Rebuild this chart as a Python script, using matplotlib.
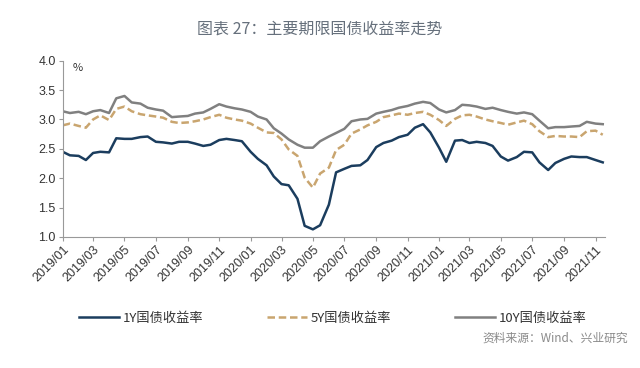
import matplotlib
matplotlib.use("Agg")
import matplotlib.pyplot as plt
import matplotlib.dates as mdates
import pandas as pd
import numpy as np

plt.rcParams['font.family'] = ['Noto Sans CJK SC', 'DejaVu Sans']

# semi-monthly observation dates (1st and 15th of each month)
dates = pd.date_range('2019-01-01', periods=70, freq='SMS')

y1 = [2.45, 2.39, 2.38, 2.31, 2.43, 2.45, 2.44, 2.68, 2.67, 2.67,
      2.70, 2.71, 2.62, 2.61, 2.59, 2.62, 2.62, 2.59, 2.55, 2.57,
      2.65, 2.67, 2.65, 2.63, 2.45, 2.33, 2.22, 2.03, 1.90, 1.88,
      1.65, 1.19, 1.13, 1.20, 1.55, 2.10, 2.16, 2.21, 2.22, 2.31,
      2.53, 2.60, 2.64, 2.70, 2.74, 2.86, 2.92, 2.78, 2.52, 2.28,
      2.64, 2.65, 2.60, 2.62, 2.60, 2.55, 2.37, 2.30, 2.36, 2.45,
      2.44, 2.27, 2.14, 2.26, 2.33, 2.37, 2.36, 2.36, 2.31, 2.27]

y5 = [2.90, 2.93, 2.89, 2.86, 3.00, 3.07, 2.99, 3.18, 3.22, 3.14,
      3.09, 3.07, 3.05, 3.03, 2.96, 2.94, 2.95, 2.97, 3.00, 3.04,
      3.08, 3.03, 3.00, 2.98, 2.93, 2.86, 2.78, 2.77, 2.66, 2.49,
      2.38, 2.01, 1.84, 2.08, 2.18, 2.48, 2.57, 2.76, 2.83, 2.90,
      2.96, 3.04, 3.07, 3.10, 3.08, 3.11, 3.13, 3.08, 2.99, 2.89,
      3.01, 3.07, 3.08, 3.05, 3.00, 2.97, 2.94, 2.91, 2.95, 2.98,
      2.92, 2.80, 2.70, 2.72, 2.71, 2.71, 2.70, 2.80, 2.81, 2.74]

y10 = [3.14, 3.11, 3.13, 3.09, 3.14, 3.16, 3.11, 3.36, 3.40, 3.29,
       3.27, 3.20, 3.17, 3.15, 3.04, 3.05, 3.06, 3.10, 3.12, 3.18,
       3.26, 3.22, 3.19, 3.17, 3.13, 3.05, 3.00, 2.85, 2.76, 2.66,
       2.57, 2.52, 2.52, 2.63, 2.71, 2.77, 2.84, 2.97, 3.00, 3.01,
       3.10, 3.13, 3.16, 3.20, 3.23, 3.27, 3.30, 3.28, 3.17, 3.12,
       3.16, 3.25, 3.24, 3.22, 3.18, 3.20, 3.16, 3.13, 3.10, 3.12,
       3.09, 2.98, 2.85, 2.87, 2.87, 2.88, 2.89, 2.96, 2.93, 2.92]

labels = ['1Y国债收益率', '5Y国债收益率', '10Y国债收益率']
colors = ['#1b3d5e', '#c9a56f', '#808080']

fig = plt.figure(figsize=(6.4, 3.68), dpi=100)
ax = fig.add_axes([0.098, 0.356, 0.847, 0.479])

l1, = ax.plot(dates, y1, color=colors[0], lw=1.8, label=labels[0])
l2, = ax.plot(dates, y5, color=colors[1], lw=1.8, ls=(0, (3, 1.5)), label=labels[1])
l3, = ax.plot(dates, y10, color=colors[2], lw=1.8, label=labels[2])

ax.set_ylim(1.0, 4.0)
ax.set_yticks(np.arange(1.0, 4.01, 0.5))
ax.set_yticklabels([f'{v:.1f}' for v in np.arange(1.0, 4.01, 0.5)],
                   family='Liberation Sans', fontsize=9, color='#333333')
ax.set_xlim(pd.Timestamp('2019-01-01'), pd.Timestamp('2021-11-19'))
ax.xaxis.set_major_locator(mdates.MonthLocator(bymonth=[1, 3, 5, 7, 9, 11]))
ax.xaxis.set_major_formatter(mdates.DateFormatter('%Y/%m'))
for t in ax.get_xticklabels():
    t.set_rotation(45)
    t.set_ha('right')
    t.set_rotation_mode('anchor')
    t.set_family('Liberation Sans')
    t.set_fontsize(9)
    t.set_color('#333333')

for s in ['top', 'right']:
    ax.spines[s].set_visible(False)
for s in ['left', 'bottom']:
    ax.spines[s].set_color('#999999')
    ax.spines[s].set_linewidth(0.8)
ax.tick_params(axis='both', direction='out', length=3, width=0.8, color='#999999', pad=2)

ax.text(0.018, 0.985, '%', transform=ax.transAxes, fontsize=8, color='#333333',
        va='top', ha='left')

fig.text(0.5, 0.922, '图表 27：主要期限国债收益率走势', ha='center', va='center',
         fontsize=11.5, color='#66707c')

fig.legend(handles=[l1, l2, l3], labels=labels, loc='lower left',
           bbox_to_anchor=(0.105, 0.085, 0.83, 0.07), mode='expand', ncol=3,
           frameon=False, fontsize=9.5, handlelength=3.0, handletextpad=0.3,
           labelcolor='#333333')

fig.text(0.981, 0.081, '资料来源：Wind、兴业研究', ha='right', va='center',
         fontsize=8.5, color='#8a8a8a')

fig.savefig('out.png', dpi=100)
